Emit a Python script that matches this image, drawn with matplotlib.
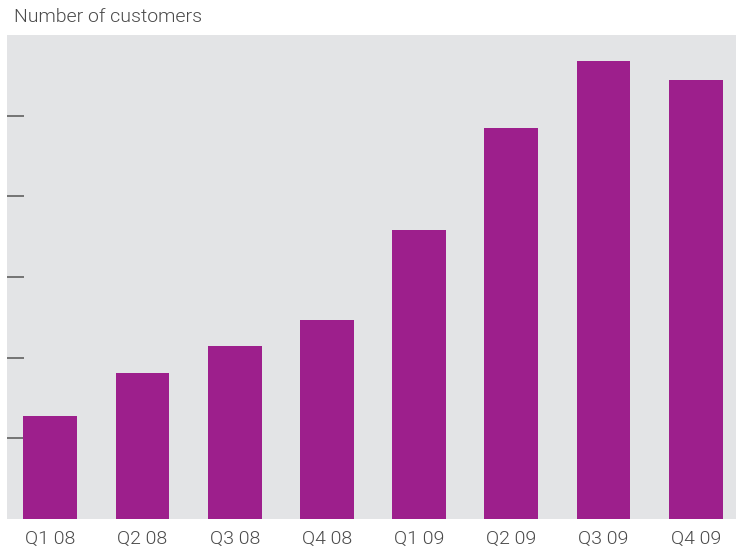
import matplotlib
matplotlib.use("Agg")
import matplotlib.pyplot as plt

categories = ["Q1 08", "Q2 08", "Q3 08", "Q4 08", "Q1 09", "Q2 09", "Q3 09", "Q4 09"]
customers = [1.28, 1.81, 2.14, 2.47, 3.58, 4.85, 5.68, 5.44]
ytick_values = [1, 2, 3, 4, 5]

FONT = ["Roboto", "DejaVu Sans"]
fig = plt.figure(figsize=(7.39, 5.51), dpi=100)
ax = fig.add_axes([7/739, 32/551, 729/739, 484/551])
ax.set_facecolor("#e3e4e6")
x = list(range(len(categories)))
ax.bar(x, customers, width=0.585, color="#9d1f8c", zorder=2)
ax.set_xlim(-0.47, 7.437)
ax.set_ylim(0, 6)
for s in ax.spines.values():
    s.set_visible(False)
ax.set_yticks(ytick_values)
ax.set_yticklabels([])
ax.tick_params(axis="y", direction="in", length=12, width=1.1, color="#555555", left=True)
ax.set_xticks(x)
ax.set_xticklabels(categories, fontsize=14, color="#4a4a4a", family=FONT, fontweight=300)
ax.tick_params(axis="x", length=0, pad=8)
for t in ax.get_yticklines():
    t.set_zorder(3)
fig.text(14/739, 1 - 22/551, "Number of customers", fontsize=14, color="#4a4a4a",
         family=FONT, fontweight=300, va="baseline", ha="left")
fig.savefig("out.png", dpi=100)
